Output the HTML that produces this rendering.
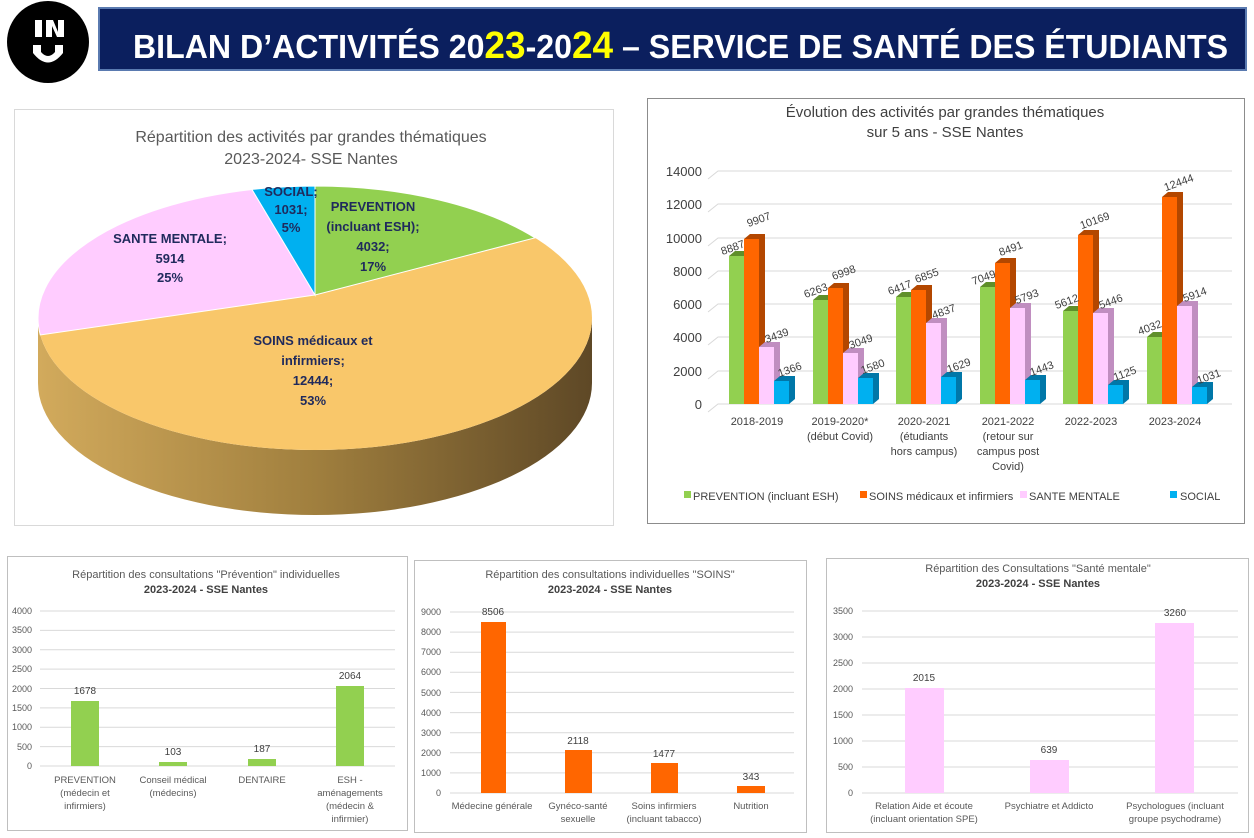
<!DOCTYPE html>
<html><head><meta charset="utf-8"><style>
html,body{margin:0;padding:0;background:#fff;}
svg{display:block;font-family:"Liberation Sans",sans-serif;}
</style></head><body>
<svg width="1254" height="838" viewBox="0 0 1254 838" xmlns="http://www.w3.org/2000/svg">
<defs>
<linearGradient id="side" x1="0" x2="1" y1="0" y2="0">
<stop offset="0" stop-color="#d2aa5c"/><stop offset="0.5" stop-color="#a07f3e"/><stop offset="1" stop-color="#5e4826"/>
</linearGradient>
</defs>
<rect width="1254" height="838" fill="#fff"/>
<!-- header -->
<ellipse cx="48" cy="42" rx="41" ry="41" fill="#000"/>
<rect x="35" y="20" width="7" height="17" fill="#fff"/>
<polygon points="46,20 53,20 58,32 58,20 64,20 64,37 57,37 52,26 52,37 46,37" fill="#fff"/>
<path d="M33 45 L41 45 L41 52 Q48 60 55 52 L55 45 L63 45 L63 53 Q48 72 33 53 Z" fill="#fff"/>
<rect x="99" y="8" width="1147" height="62" fill="#0b1f5e" stroke="#5a7ab0" stroke-width="2"/>
<text x="133" y="58" font-size="33" font-weight="bold" fill="#fff" textLength="1095" lengthAdjust="spacingAndGlyphs">BILAN D’ACTIVITÉS 20<tspan fill="#ffff00" font-size="38">23</tspan>-20<tspan fill="#ffff00" font-size="38">24</tspan> – SERVICE DE SANTÉ DES ÉTUDIANTS</text>

<!-- pie frame -->
<rect x="14.5" y="109.5" width="599" height="416" fill="#fff" stroke="#d9d9d9"/>
<text x="311" y="142" font-size="16" fill="#595959" text-anchor="middle">Répartition des activités par grandes thématiques</text>
<text x="311" y="164" font-size="16" fill="#595959" text-anchor="middle">2023-2024- SSE Nantes</text>
<!-- side -->
<path d="M38 318 A277 132 0 0 0 592 318 L592 383 A277 132 0 0 1 38 383 Z" fill="url(#side)"/>
<!-- top slices -->
<ellipse cx="315" cy="318" rx="277" ry="132" fill="#f9c76a"/>
<path d="M315 295 L535 237.8 A277 132 0 0 0 315 186 Z" fill="#92d050" stroke="#fff" stroke-width="1"/>
<path d="M315 295 L252 189.5 A277 132 0 0 0 40.3 335 Z" fill="#ffccff" stroke="#fff" stroke-width="1"/>
<path d="M315 295 L315 186 A277 132 0 0 0 252 189.5 Z" fill="#00b0f0" stroke="#fff" stroke-width="1"/>
<g font-size="13" font-weight="bold" fill="#1f2a5c" text-anchor="middle">
<text x="373" y="211">PREVENTION</text><text x="373" y="231">(incluant ESH);</text><text x="373" y="251">4032;</text><text x="373" y="271">17%</text>
<text x="170" y="243">SANTE MENTALE;</text><text x="170" y="263">5914</text><text x="170" y="282">25%</text>
<text x="291" y="196">SOCIAL;</text><text x="291" y="214">1031;</text><text x="291" y="232">5%</text>
<text x="313" y="345">SOINS médicaux et</text><text x="313" y="365">infirmiers;</text><text x="313" y="385">12444;</text><text x="313" y="405">53%</text>
</g>

<!-- 3d bar frame -->
<rect x="647.5" y="98.5" width="597" height="425" fill="#fff" stroke="#8c8c8c"/>
<text x="945" y="117" font-size="15" fill="#404040" text-anchor="middle">Évolution des activités par grandes thématiques</text>
<text x="945" y="137" font-size="15" fill="#404040" text-anchor="middle">sur 5 ans - SSE Nantes</text>
<g stroke="#d9d9d9" stroke-width="1" fill="none">
<path d="M708 412 L718 404 L1232 404"/><path d="M708 379 L718 371 L1232 371"/><path d="M708 345 L718 337 L1232 337"/><path d="M708 312 L718 304 L1232 304"/><path d="M708 279 L718 271 L1232 271"/><path d="M708 246 L718 238 L1232 238"/><path d="M708 212 L718 204 L1232 204"/><path d="M708 179 L718 171 L1232 171"/>
</g>
<g font-size="13" fill="#404040" text-anchor="end">
<text x="702" y="409">0</text><text x="702" y="376">2000</text><text x="702" y="342">4000</text><text x="702" y="309">6000</text><text x="702" y="276">8000</text><text x="702" y="243">10000</text><text x="702" y="209">12000</text><text x="702" y="176">14000</text>
</g>
<g id="bars">
<polygon points="729,256 735,251 750,251 750,399 744,404 744,256" fill="#5f8f2a"/><rect x="729" y="256" width="15" height="148" fill="#92d050"/>
<polygon points="744,239 750,234 765,234 765,399 759,404 759,239" fill="#b34700"/><rect x="744" y="239" width="15" height="165" fill="#ff6600"/>
<polygon points="759,347 765,342 780,342 780,399 774,404 774,347" fill="#c08ec0"/><rect x="759" y="347" width="15" height="57" fill="#ffccff"/>
<polygon points="774,381 780,376 795,376 795,399 789,404 789,381" fill="#0077a8"/><rect x="774" y="381" width="15" height="23" fill="#00b0f0"/>
<polygon points="813,300 819,295 834,295 834,399 828,404 828,300" fill="#5f8f2a"/><rect x="813" y="300" width="15" height="104" fill="#92d050"/>
<polygon points="828,288 834,283 849,283 849,399 843,404 843,288" fill="#b34700"/><rect x="828" y="288" width="15" height="116" fill="#ff6600"/>
<polygon points="843,353 849,348 864,348 864,399 858,404 858,353" fill="#c08ec0"/><rect x="843" y="353" width="15" height="51" fill="#ffccff"/>
<polygon points="858,378 864,373 879,373 879,399 873,404 873,378" fill="#0077a8"/><rect x="858" y="378" width="15" height="26" fill="#00b0f0"/>
<polygon points="896,297 902,292 917,292 917,399 911,404 911,297" fill="#5f8f2a"/><rect x="896" y="297" width="15" height="107" fill="#92d050"/>
<polygon points="911,290 917,285 932,285 932,399 926,404 926,290" fill="#b34700"/><rect x="911" y="290" width="15" height="114" fill="#ff6600"/>
<polygon points="926,323 932,318 947,318 947,399 941,404 941,323" fill="#c08ec0"/><rect x="926" y="323" width="15" height="81" fill="#ffccff"/>
<polygon points="941,377 947,372 962,372 962,399 956,404 956,377" fill="#0077a8"/><rect x="941" y="377" width="15" height="27" fill="#00b0f0"/>
<polygon points="980,287 986,282 1001,282 1001,399 995,404 995,287" fill="#5f8f2a"/><rect x="980" y="287" width="15" height="117" fill="#92d050"/>
<polygon points="995,263 1001,258 1016,258 1016,399 1010,404 1010,263" fill="#b34700"/><rect x="995" y="263" width="15" height="141" fill="#ff6600"/>
<polygon points="1010,308 1016,303 1031,303 1031,399 1025,404 1025,308" fill="#c08ec0"/><rect x="1010" y="308" width="15" height="96" fill="#ffccff"/>
<polygon points="1025,380 1031,375 1046,375 1046,399 1040,404 1040,380" fill="#0077a8"/><rect x="1025" y="380" width="15" height="24" fill="#00b0f0"/>
<polygon points="1063,311 1069,306 1084,306 1084,399 1078,404 1078,311" fill="#5f8f2a"/><rect x="1063" y="311" width="15" height="93" fill="#92d050"/>
<polygon points="1078,235 1084,230 1099,230 1099,399 1093,404 1093,235" fill="#b34700"/><rect x="1078" y="235" width="15" height="169" fill="#ff6600"/>
<polygon points="1093,313 1099,308 1114,308 1114,399 1108,404 1108,313" fill="#c08ec0"/><rect x="1093" y="313" width="15" height="91" fill="#ffccff"/>
<polygon points="1108,385 1114,380 1129,380 1129,399 1123,404 1123,385" fill="#0077a8"/><rect x="1108" y="385" width="15" height="19" fill="#00b0f0"/>
<polygon points="1147,337 1153,332 1168,332 1168,399 1162,404 1162,337" fill="#5f8f2a"/><rect x="1147" y="337" width="15" height="67" fill="#92d050"/>
<polygon points="1162,197 1168,192 1183,192 1183,399 1177,404 1177,197" fill="#b34700"/><rect x="1162" y="197" width="15" height="207" fill="#ff6600"/>
<polygon points="1177,306 1183,301 1198,301 1198,399 1192,404 1192,306" fill="#c08ec0"/><rect x="1177" y="306" width="15" height="98" fill="#ffccff"/>
<polygon points="1192,387 1198,382 1213,382 1213,399 1207,404 1207,387" fill="#0077a8"/><rect x="1192" y="387" width="15" height="17" fill="#00b0f0"/>
</g>
<g font-size="11" fill="#404040" text-anchor="middle">
<text transform="translate(734,251) rotate(-20)">8887</text><text transform="translate(760,223) rotate(-20)">9907</text><text transform="translate(778,339) rotate(-20)">3439</text><text transform="translate(791,373) rotate(-20)">1366</text>
<text transform="translate(817,294) rotate(-20)">6263</text><text transform="translate(845,276) rotate(-20)">6998</text><text transform="translate(862,345) rotate(-20)">3049</text><text transform="translate(874,370) rotate(-20)">1580</text>
<text transform="translate(901,291) rotate(-20)">6417</text><text transform="translate(928,279) rotate(-20)">6855</text><text transform="translate(945,315) rotate(-20)">4837</text><text transform="translate(960,369) rotate(-20)">1629</text>
<text transform="translate(985,281) rotate(-20)">7049</text><text transform="translate(1012,252) rotate(-20)">8491</text><text transform="translate(1028,300) rotate(-20)">5793</text><text transform="translate(1043,372) rotate(-20)">1443</text>
<text transform="translate(1068,305) rotate(-20)">5612</text><text transform="translate(1096,224) rotate(-20)">10169</text><text transform="translate(1112,305) rotate(-20)">5446</text><text transform="translate(1126,377) rotate(-20)">1125</text>
<text transform="translate(1151,331) rotate(-20)">4032</text><text transform="translate(1180,186) rotate(-20)">12444</text><text transform="translate(1196,298) rotate(-20)">5914</text><text transform="translate(1210,380) rotate(-20)">1031</text>
</g>
<g font-size="11" fill="#404040" text-anchor="middle">
<text x="757" y="425">2018-2019</text>
<text x="840" y="425">2019-2020*</text><text x="840" y="440">(début Covid)</text>
<text x="924" y="425">2020-2021</text><text x="924" y="440">(étudiants</text><text x="924" y="455">hors campus)</text>
<text x="1008" y="425">2021-2022</text><text x="1008" y="440">(retour sur</text><text x="1008" y="455">campus post</text><text x="1008" y="470">Covid)</text>
<text x="1091" y="425">2022-2023</text>
<text x="1175" y="425">2023-2024</text>
</g>
<g font-size="11" fill="#404040">
<rect x="684" y="491" width="7" height="7" fill="#92d050"/><text x="693" y="500">PREVENTION (incluant ESH)</text>
<rect x="860" y="491" width="7" height="7" fill="#ff6600"/><text x="869" y="500">SOINS médicaux et infirmiers</text>
<rect x="1020" y="491" width="7" height="7" fill="#ffccff"/><text x="1029" y="500">SANTE MENTALE</text>
<rect x="1170" y="491" width="7" height="7" fill="#00b0f0"/><text x="1180" y="500">SOCIAL</text>
</g>

<!-- chart 1 -->
<rect x="7.5" y="556.5" width="400" height="274" fill="#fff" stroke="#bfbfbf"/>
<text x="206" y="578" font-size="11" fill="#595959" text-anchor="middle">Répartition des consultations "Prévention" individuelles</text>
<text x="206" y="593" font-size="11" font-weight="bold" fill="#404040" text-anchor="middle">2023-2024 - SSE Nantes</text>
<g stroke="#d9d9d9"><line x1="40" x2="395" y1="611" y2="611"/><line x1="40" x2="395" y1="630.4" y2="630.4"/><line x1="40" x2="395" y1="649.8" y2="649.8"/><line x1="40" x2="395" y1="669.1" y2="669.1"/><line x1="40" x2="395" y1="688.5" y2="688.5"/><line x1="40" x2="395" y1="707.9" y2="707.9"/><line x1="40" x2="395" y1="727.3" y2="727.3"/><line x1="40" x2="395" y1="746.6" y2="746.6"/><line x1="40" x2="395" y1="766" y2="766"/></g>
<g font-size="9" fill="#595959" text-anchor="end"><text x="32" y="614">4000</text><text x="32" y="633">3500</text><text x="32" y="653">3000</text><text x="32" y="672">2500</text><text x="32" y="692">2000</text><text x="32" y="711">1500</text><text x="32" y="730">1000</text><text x="32" y="750">500</text><text x="32" y="769">0</text></g>
<g fill="#92d050"><rect x="71" y="701" width="28" height="65"/><rect x="159" y="762" width="28" height="4"/><rect x="248" y="759" width="28" height="7"/><rect x="336" y="686" width="28" height="80"/></g>
<g font-size="10" fill="#404040" text-anchor="middle"><text x="85" y="694">1678</text><text x="173" y="755">103</text><text x="262" y="752">187</text><text x="350" y="679">2064</text></g>
<g font-size="9.5" fill="#595959" text-anchor="middle">
<text x="85" y="783">PREVENTION</text><text x="85" y="796">(médecin et</text><text x="85" y="809">infirmiers)</text>
<text x="173" y="783">Conseil médical</text><text x="173" y="796">(médecins)</text>
<text x="262" y="783">DENTAIRE</text>
<text x="350" y="783">ESH -</text><text x="350" y="796">aménagements</text><text x="350" y="809">(médecin &amp;</text><text x="350" y="822">infirmier)</text>
</g>

<!-- chart 2 -->
<rect x="414.5" y="560.5" width="392" height="272" fill="#fff" stroke="#bfbfbf"/>
<text x="610" y="578" font-size="11" fill="#595959" text-anchor="middle">Répartition des consultations individuelles "SOINS"</text>
<text x="610" y="593" font-size="11" font-weight="bold" fill="#404040" text-anchor="middle">2023-2024 - SSE Nantes</text>
<g stroke="#d9d9d9"><line x1="450" x2="794" y1="612" y2="612"/><line x1="450" x2="794" y1="632.1" y2="632.1"/><line x1="450" x2="794" y1="652.2" y2="652.2"/><line x1="450" x2="794" y1="672.3" y2="672.3"/><line x1="450" x2="794" y1="692.4" y2="692.4"/><line x1="450" x2="794" y1="712.6" y2="712.6"/><line x1="450" x2="794" y1="732.7" y2="732.7"/><line x1="450" x2="794" y1="752.8" y2="752.8"/><line x1="450" x2="794" y1="772.9" y2="772.9"/><line x1="450" x2="794" y1="793" y2="793"/></g>
<g font-size="9" fill="#595959" text-anchor="end"><text x="441" y="615">9000</text><text x="441" y="635">8000</text><text x="441" y="655">7000</text><text x="441" y="675">6000</text><text x="441" y="696">5000</text><text x="441" y="716">4000</text><text x="441" y="736">3000</text><text x="441" y="756">2000</text><text x="441" y="776">1000</text><text x="441" y="796">0</text></g>
<g fill="#ff6600"><rect x="481" y="622" width="25" height="171"/><rect x="565" y="750" width="27" height="43"/><rect x="651" y="763" width="27" height="30"/><rect x="737" y="786" width="28" height="7"/></g>
<g font-size="10" fill="#404040" text-anchor="middle"><text x="493" y="615">8506</text><text x="578" y="744">2118</text><text x="664" y="757">1477</text><text x="751" y="780">343</text></g>
<g font-size="9.5" fill="#595959" text-anchor="middle">
<text x="492" y="809">Médecine générale</text>
<text x="578" y="809">Gynéco-santé</text><text x="578" y="822">sexuelle</text>
<text x="664" y="809">Soins infirmiers</text><text x="664" y="822">(incluant tabacco)</text>
<text x="751" y="809">Nutrition</text>
</g>

<!-- chart 3 -->
<rect x="826.5" y="558.5" width="422" height="274" fill="#fff" stroke="#bfbfbf"/>
<text x="1038" y="572" font-size="11" fill="#595959" text-anchor="middle">Répartition des  Consultations "Santé mentale"</text>
<text x="1038" y="587" font-size="11" font-weight="bold" fill="#404040" text-anchor="middle">2023-2024 - SSE Nantes</text>
<g stroke="#d9d9d9"><line x1="862" x2="1238" y1="611" y2="611"/><line x1="862" x2="1238" y1="637" y2="637"/><line x1="862" x2="1238" y1="663" y2="663"/><line x1="862" x2="1238" y1="689" y2="689"/><line x1="862" x2="1238" y1="715" y2="715"/><line x1="862" x2="1238" y1="741" y2="741"/><line x1="862" x2="1238" y1="767" y2="767"/><line x1="862" x2="1238" y1="793" y2="793"/></g>
<g font-size="9" fill="#595959" text-anchor="end"><text x="853" y="614">3500</text><text x="853" y="640">3000</text><text x="853" y="666">2500</text><text x="853" y="692">2000</text><text x="853" y="718">1500</text><text x="853" y="744">1000</text><text x="853" y="770">500</text><text x="853" y="796">0</text></g>
<g fill="#ffccff"><rect x="905" y="688" width="39" height="105"/><rect x="1030" y="760" width="39" height="33"/><rect x="1155" y="623" width="39" height="170"/></g>
<g font-size="10" fill="#404040" text-anchor="middle"><text x="924" y="681">2015</text><text x="1049" y="753">639</text><text x="1175" y="616">3260</text></g>
<g font-size="9.5" fill="#595959" text-anchor="middle">
<text x="924" y="809">Relation Aide et écoute</text><text x="924" y="822">(incluant orientation SPE)</text>
<text x="1049" y="809">Psychiatre et Addicto</text>
<text x="1175" y="809">Psychologues (incluant</text><text x="1175" y="822">groupe psychodrame)</text>
</g>
</svg>
</body></html>
